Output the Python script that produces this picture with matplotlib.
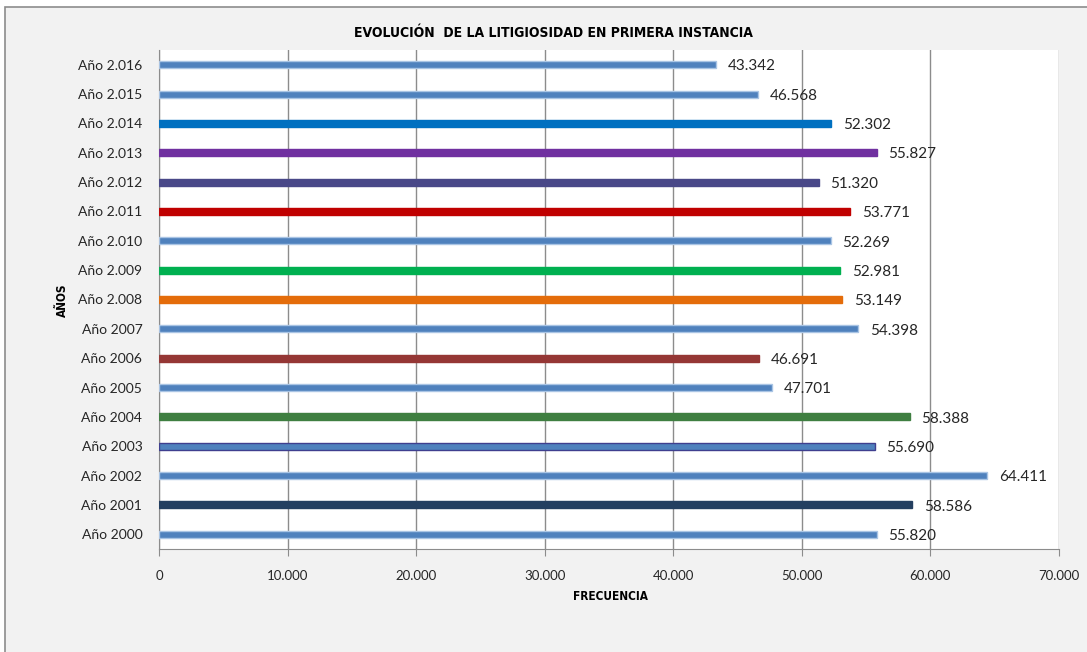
import matplotlib.pyplot as plt
from matplotlib.patches import Rectangle

# data, bottom to top
years = ['Año 2000', 'Año 2001', 'Año 2002', 'Año 2003', 'Año 2004', 'Año 2005',
         'Año 2006', 'Año 2007', 'Año 2.008', 'Año 2.009', 'Año 2.010', 'Año 2.011',
         'Año 2.012', 'Año 2.013', 'Año 2.014', 'Año 2.015', 'Año 2.016']
values = [55820, 58586, 64411, 55690, 58388, 47701, 46691, 54398, 53149, 52981,
          52269, 53771, 51320, 55827, 52302, 46568, 43342]
labels = ['55.820', '58.586', '64.411', '55.690', '58.388', '47.701', '46.691', '54.398',
          '53.149', '52.981', '52.269', '53.771', '51.320', '55.827', '52.302', '46.568', '43.342']
colors = ['#4f81bd', '#243f60', '#4f81bd', '#4f81bd', '#3f7f41', '#4f81bd', '#953735',
          '#4f81bd', '#e46c0a', '#00b050', '#4f81bd', '#c00000', '#494888', '#7030a0',
          '#0070c0', '#4f81bd', '#4f81bd']
edges = ['#a9c4e4', '#243f60', '#a9c4e4', '#3f3f8f', '#3f7f41', '#a9c4e4', '#953735',
         '#a9c4e4', '#e46c0a', '#00b050', '#a9c4e4', '#c00000', '#494888', '#7030a0',
         '#0070c0', '#a9c4e4', '#a9c4e4']
xticks = [0, 10000, 20000, 30000, 40000, 50000, 60000, 70000]
xticklabels = ['0', '10.000', '20.000', '30.000', '40.000', '50.000', '60.000', '70.000']

fig = plt.figure(figsize=(10.87, 6.52), dpi=100)
fig.patch.set_facecolor('white')
# chart area, its right and bottom edges run past the picture
fig.patches.append(Rectangle((5 / 1087, -0.05), 1.1, 1.05 - 7 / 652,
                             transform=fig.transFigure, facecolor='#f2f2f2',
                             edgecolor='#8c8c8c', linewidth=1.2, zorder=-10))

ax = fig.add_axes([159 / 1087, 1 - 549 / 652, 900 / 1087, 499 / 652])
ax.set_facecolor('white')
pos = list(range(len(years)))
ax.barh(pos, values, height=0.24, color=colors, edgecolor=edges, linewidth=1, zorder=3)
for p, v, lab in zip(pos, values, labels):
    ax.text(v + 900, p - 0.06, lab, va='center', ha='left', fontsize=11, color='#262626',
            family='Lato', zorder=4)

ax.set_xlim(0, 70000)
ax.set_ylim(-0.5, 16.5)
ax.set_xticks(xticks)
ax.set_xticklabels(xticklabels, family='Lato', fontsize=9.5, color='#262626')
ax.set_yticks(pos)
ax.set_yticklabels(years, family='Lato', fontsize=10, color='#262626')
ax.tick_params(axis='y', length=0, pad=12)
ax.tick_params(axis='x', length=5, color='#8c8c8c', direction='out', pad=10)
ax.grid(axis='x', color='#8c8c8c', linewidth=1, zorder=1)
for s in ['top', 'right']:
    ax.spines[s].set_visible(False)
ax.spines['left'].set_color('#8c8c8c')
ax.spines['bottom'].set_color('#8c8c8c')

cond = dict(family='DejaVu Sans', fontstretch='condensed', fontweight='bold')
fig.text(610 / 1087, 1 - 596 / 652, 'FRECUENCIA', ha='center', va='center',
         fontsize=8.5, **cond)
fig.text(62 / 1087, 1 - 300 / 652, 'AÑOS', ha='center', va='center', rotation=90,
         fontsize=8.5, **cond)
fig.text(553 / 1087, 1 - 33 / 652, 'EVOLUCIÓN  DE LA LITIGIOSIDAD EN PRIMERA INSTANCIA',
         ha='center', va='center', fontsize=10, **cond)

fig.savefig('out.png', dpi=100, facecolor=fig.get_facecolor())
